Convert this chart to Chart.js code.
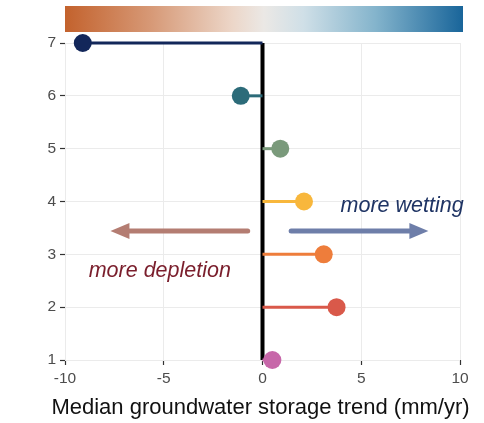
<!DOCTYPE html>
<html>
<head>
<meta charset="utf-8">
<script src="https://cdn.jsdelivr.net/npm/chart.js@4"></script>
<style>
html,body{margin:0;padding:0;background:#fff;}
#wrap{width:484px;height:423px;position:relative;}
</style>
</head>
<body>
<div id="wrap"><canvas id="c" width="484" height="423"></canvas></div>
<script>
// Data
const categories = [1, 2, 3, 4, 5, 6, 7];
const trendValues = [0.5, 3.75, 3.1, 2.1, 0.9, -1.1, -9.1];
const pointColors = ['#c767a9', '#d9594a', '#ee7d3b', '#f8b73c', '#7a9a7b', '#2c6b79', '#13275a'];
const xTicks = [-10, -5, 0, 5, 10];
const yTicks = [1, 2, 3, 4, 5, 6, 7];
const xTitle = 'Median groundwater storage trend (mm/yr)';
const labelWetting = 'more wetting';
const labelDepletion = 'more depletion';

// Annotation anchors (data coordinates)
const arrowLeft = {from: -0.75, to: -7.7, y: 3.44, color: '#b47d72'};
const arrowRight = {from: 1.45, to: 8.4, y: 3.44, color: '#6e7ea9'};
const textWetting = {x: 3.95, y: 3.92, color: '#1f3464'};
const textDepletion = {x: -8.8, y: 2.68, color: '#7a1e2c'};

const datasets = [];
// zero reference line
datasets.push({
  type: 'line',
  data: [{x: 0, y: categories[0]}, {x: 0, y: categories[categories.length - 1]}],
  borderColor: '#000',
  borderWidth: 4,
  pointRadius: 0,
  clip: false,
  order: 10
});
categories.forEach((c, i) => {
  datasets.push({
    type: 'line',
    data: [{x: 0, y: c}, {x: trendValues[i], y: c}],
    borderColor: pointColors[i],
    backgroundColor: pointColors[i],
    borderWidth: 3,
    pointRadius: [0, 9],
    pointBorderWidth: 0,
    pointHoverRadius: [0, 9],
    clip: false,
    order: 1
  });
});

const decorPlugin = {
  id: 'decor',
  beforeDraw(chart) {
    const ctx = chart.ctx;
    const xs = chart.scales.x;
    // gradient bar spanning the x range
    const left = xs.getPixelForValue(-10);
    const right = xs.getPixelForValue(10) + 3;
    const g = ctx.createLinearGradient(left, 0, right, 0);
    g.addColorStop(0, '#c3622d');
    g.addColorStop(0.22, '#d79a78');
    g.addColorStop(0.42, '#ecd6c8');
    g.addColorStop(0.5, '#ebe8e5');
    g.addColorStop(0.6, '#cfdfe7');
    g.addColorStop(0.78, '#84b4cc');
    g.addColorStop(1, '#19659a');
    ctx.save();
    ctx.fillStyle = g;
    ctx.fillRect(left, 6, right - left, 26);
    ctx.restore();
  },
  afterDatasetsDraw(chart) {
    const ctx = chart.ctx;
    const xs = chart.scales.x, ys = chart.scales.y;
    function arrow(a) {
      const x0 = xs.getPixelForValue(a.from);
      const x1 = xs.getPixelForValue(a.to);
      const y = ys.getPixelForValue(a.y);
      const dir = Math.sign(x1 - x0);
      const headLen = 19, headH = 8;
      ctx.save();
      ctx.strokeStyle = a.color;
      ctx.fillStyle = a.color;
      ctx.lineWidth = 5;
      ctx.lineCap = 'round';
      ctx.beginPath();
      ctx.moveTo(x0, y);
      ctx.lineTo(x1 - dir * headLen, y);
      ctx.stroke();
      ctx.beginPath();
      ctx.moveTo(x1, y);
      ctx.lineTo(x1 - dir * headLen, y - headH);
      ctx.lineTo(x1 - dir * headLen, y + headH);
      ctx.closePath();
      ctx.fill();
      ctx.restore();
    }
    arrow(arrowLeft);
    arrow(arrowRight);
    ctx.save();
    ctx.font = 'italic 21.5px "Liberation Sans", Arial, sans-serif';
    ctx.textBaseline = 'middle';
    ctx.textAlign = 'left';
    ctx.fillStyle = textWetting.color;
    ctx.fillText(labelWetting, xs.getPixelForValue(textWetting.x), ys.getPixelForValue(textWetting.y));
    ctx.fillStyle = textDepletion.color;
    ctx.fillText(labelDepletion, xs.getPixelForValue(textDepletion.x), ys.getPixelForValue(textDepletion.y));
    // axis title (drawn without width compression)
    ctx.font = '22px "Liberation Sans", Arial, sans-serif';
    ctx.textAlign = 'center';
    ctx.fillStyle = '#111';
    ctx.fillText(xTitle, xs.getPixelForValue(-0.1), xs.bottom - 15);
    ctx.restore();
  }
};

new Chart(document.getElementById('c'), {
  type: 'scatter',
  data: {datasets},
  plugins: [decorPlugin],
  options: {
    responsive: false,
    animation: false,
    events: [],
    layout: {padding: {left: 0, top: 43, right: 24, bottom: 0}},
    plugins: {legend: {display: false}, tooltip: {enabled: false}},
    scales: {
      x: {
        type: 'linear',
        min: -10, max: 10,
        afterBuildTicks(s) { s.ticks = xTicks.map(v => ({value: v})); },
        afterFit(s) { s.height = 63; },
        border: {display: false},
        grid: {color: '#ebebeb', lineWidth: 1, tickColor: '#333', tickLength: 5, tickWidth: 1.2},
        ticks: {color: '#4d4d4d', font: {family: '"Liberation Sans", Arial, sans-serif', size: 15.5}, padding: 4, maxRotation: 0},
        title: {display: false}
      },
      y: {
        type: 'linear',
        min: 1, max: 7,
        afterBuildTicks(s) { s.ticks = yTicks.map(v => ({value: v})); },
        afterFit(s) { s.width = 65; },
        border: {display: false},
        grid: {color: '#ebebeb', lineWidth: 1, tickColor: '#333', tickLength: 5, tickWidth: 1.2},
        ticks: {color: '#4d4d4d', font: {family: '"Liberation Sans", Arial, sans-serif', size: 15.5}, padding: 4}
      }
    }
  }
});
</script>
</body>
</html>
